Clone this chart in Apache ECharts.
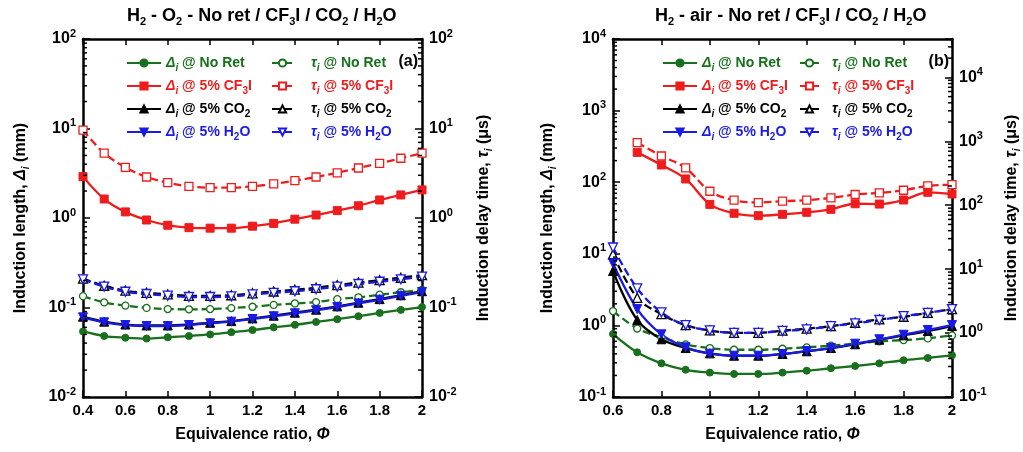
<!DOCTYPE html>
<html>
<head>
<meta charset="utf-8">
<script src="https://cdn.jsdelivr.net/npm/echarts@6/dist/echarts.min.js"></script>
<style>
  html, body { margin: 0; padding: 0; background: #fff; }
  #chart { width: 1023px; height: 452px; }
</style>
</head>
<body>
<div id="chart"></div>
<script>
// ---- Panel (a): H2 - O2 ----
const phiA = [0.4, 0.5, 0.6, 0.7, 0.8, 0.9, 1.0, 1.1, 1.2, 1.3, 1.4, 1.5, 1.6, 1.7, 1.8, 1.9, 2.0];
const aLenNoRet = [0.054, 0.048, 0.046, 0.045, 0.0465, 0.048, 0.050, 0.053, 0.056, 0.060, 0.064, 0.069, 0.074, 0.080, 0.087, 0.094, 0.101];
const aLenCF3I  = [2.9, 1.63, 1.17, 0.95, 0.83, 0.78, 0.77, 0.77, 0.81, 0.87, 0.97, 1.08, 1.21, 1.37, 1.59, 1.81, 2.06];
const aLenCO2   = [0.079, 0.0695, 0.0645, 0.063, 0.063, 0.0645, 0.0675, 0.0705, 0.0755, 0.081, 0.0875, 0.0945, 0.103, 0.113, 0.124, 0.137, 0.152];
const aLenH2O   = [0.0776, 0.0683, 0.0637, 0.062, 0.062, 0.0637, 0.0665, 0.0694, 0.0744, 0.0798, 0.0861, 0.093, 0.101, 0.111, 0.122, 0.135, 0.149];
const aTauNoRet = [0.134, 0.114, 0.105, 0.099, 0.096, 0.0955, 0.096, 0.0985, 0.102, 0.107, 0.111, 0.115, 0.124, 0.130, 0.139, 0.148, 0.157];
const aTauCF3I  = [9.6, 5.3, 3.68, 2.87, 2.48, 2.26, 2.18, 2.18, 2.26, 2.40, 2.61, 2.87, 3.2, 3.62, 4.08, 4.65, 5.3];
const aTauCO2   = [0.21, 0.175, 0.154, 0.146, 0.14, 0.135, 0.135, 0.137, 0.144, 0.151, 0.158, 0.166, 0.178, 0.19, 0.202, 0.215, 0.23];
const aTauH2O   = [0.2065, 0.171, 0.150, 0.1416, 0.1355, 0.131, 0.131, 0.133, 0.140, 0.146, 0.152, 0.160, 0.171, 0.183, 0.194, 0.2065, 0.221];

// ---- Panel (b): H2 - air ----
const phiB = [0.6, 0.7, 0.8, 0.9, 1.0, 1.1, 1.2, 1.3, 1.4, 1.5, 1.6, 1.7, 1.8, 1.9, 2.0];
const bLenNoRet = [0.758, 0.421, 0.295, 0.240, 0.219, 0.210, 0.210, 0.219, 0.233, 0.252, 0.271, 0.295, 0.326, 0.351, 0.382];
const bLenCF3I  = [null, 261, 174, 111, 49, 36.8, 34.1, 35.6, 38, 41.8, 50, 49.5, 56.4, 72.3, 68.4];
const bLenCO2   = [5.75, 1.19, 0.64, 0.483, 0.407, 0.377, 0.377, 0.399, 0.435, 0.483, 0.545, 0.631, 0.726, 0.835, 0.98];
const bLenH2O   = [7.36, 1.69, 0.75, 0.494, 0.403, 0.377, 0.377, 0.399, 0.439, 0.483, 0.555, 0.64, 0.741, 0.863, 1.01];
const bTauNoRet = [2.21, 1.18, 0.857, 0.665, 0.583, 0.548, 0.548, 0.569, 0.598, 0.634, 0.681, 0.741, 0.778, 0.826, 0.92];
const bTauCF3I  = [null, 955, 589, 383, 165.5, 120, 110, 115.5, 120, 130, 147, 155.6, 171.5, 200, 210];
const bTauCO2   = [17.1, 3.56, 1.98, 1.33, 1.10, 1.01, 1.01, 1.09, 1.17, 1.28, 1.45, 1.64, 1.80, 2.07, 2.37];
const bTauH2O   = [21.8, 4.99, 2.10, 1.33, 1.10, 1.01, 1.01, 1.08, 1.14, 1.28, 1.42, 1.60, 1.84, 2.07, 2.37];

// axis ranges
const xRangeA = [0.4, 2.0];
const xRangeB = [0.6, 2.0];
const yLeftA = [1e-2, 1e2];
const yRightA = [1e-2, 1e2];
const yLeftB = [1e-1, 1e4];
const yRightB = [1e-1, 39811];

const titleA = 'H{s|2} - O{s|2} - No ret / CF{s|3}I / CO{s|2} / H{s|2}O';
const titleB = 'H{s|2} - air - No ret / CF{s|3}I / CO{s|2} / H{s|2}O';
const xName = 'Equivalence ratio, {f|Φ}';
const yLeftName = 'Induction length, {d|Δ}{i|i} (mm)';
const yRightName = 'Induction delay time, {t|τ}{i|i} (μs)';

const GREEN = '#18701c', RED = '#ee1c1c', BLACK = '#000000', BLUE = '#1a1ae6';
const FONT = '"Liberation Sans", Arial, sans-serif';

const cases = [
  { key: 'No Ret', label: 'No Ret', color: GREEN, sym: 'circle', size: 7, rot: 0 },
  { key: '5% CF3I', label: '5% CF{s|3}I', color: RED, sym: 'rect', size: 8, rot: 0 },
  { key: '5% CO2', label: '5% CO{s|2}', color: BLACK, sym: 'triangle', size: 9, rot: 0 },
  { key: '5% H2O', label: '5% H{s|2}O', color: BLUE, sym: 'triangle', size: 9, rot: 180 }
];

const richSub = {
  s: { fontSize: 10, lineHeight: 10, verticalAlign: 'bottom', fontWeight: 'bold', fontFamily: FONT },
  i: { fontSize: 10, lineHeight: 10, verticalAlign: 'bottom', fontWeight: 'bold', fontStyle: 'italic', fontFamily: FONT },
  d: { fontStyle: 'italic', fontWeight: 'bold', fontFamily: FONT },
  t: { fontStyle: 'italic', fontWeight: 'bold', fontFamily: FONT },
  f: { fontStyle: 'italic', fontWeight: 'bold', fontFamily: FONT }
};

function zip(xs, ys) {
  const out = [];
  xs.forEach((x, k) => { if (ys[k] != null) out.push([x, ys[k]]); });
  return out;
}

function pow10Label(v) {
  const e = Math.log10(v);
  const r = Math.round(e);
  if (Math.abs(e - r) > 1e-3) return '';
  return '10{p|' + r + '}';
}

function minorValues(range) {
  const out = [];
  const e0 = Math.floor(Math.log10(range[0]) + 1e-9);
  const e1 = Math.ceil(Math.log10(range[1]) - 1e-9);
  for (let e = e0; e <= e1; e++) {
    for (let m = 2; m <= 9; m++) {
      const v = m * Math.pow(10, e);
      if (v > range[0] && v < range[1]) out.push(v);
    }
  }
  return out;
}

// short inward tick marks between decades
function minorTickSeries(xIdx, yIdx, xVal, yRange, dir) {
  return {
    type: 'custom', xAxisIndex: xIdx, yAxisIndex: yIdx, silent: true, clip: false, z: 10,
    data: minorValues(yRange).map(v => [xVal, v]),
    renderItem: function (params, api) {
      const p = api.coord([api.value(0), api.value(1)]);
      return {
        type: 'line',
        shape: { x1: p[0], y1: p[1], x2: p[0] + dir * 4, y2: p[1] },
        style: { stroke: '#000', lineWidth: 1.5 }
      };
    }
  };
}

function lenSeries(c, xIdx, yIdx, xs, ys) {
  return {
    name: 'Δi @ ' + c.key, type: 'line', xAxisIndex: xIdx, yAxisIndex: yIdx,
    data: zip(xs, ys), smooth: 0.35, symbol: c.sym, symbolSize: c.size, symbolRotate: c.rot,
    itemStyle: { color: c.color, borderColor: c.color, borderWidth: 1 },
    lineStyle: { color: c.color, width: 2.3, type: 'solid' },
    z: 3
  };
}

function tauSeries(c, xIdx, yIdx, xs, ys) {
  return {
    name: 'τi @ ' + c.key, type: 'line', xAxisIndex: xIdx, yAxisIndex: yIdx,
    data: zip(xs, ys), smooth: 0.35, symbol: c.sym, symbolSize: c.size, symbolRotate: c.rot,
    itemStyle: { color: '#ffffff', borderColor: c.color, borderWidth: 1.3 },
    lineStyle: { color: c.color, width: 2.3, type: [8, 4] },
    z: 3
  };
}

function legendBlock(prefix, left, top, iconW, gap) {
  return {
    orient: 'vertical', left: left, top: top, itemWidth: iconW, itemHeight: 9, itemGap: 3,
    symbolRotate: 'inherit', selectedMode: false, padding: 0,
    data: cases.map(c => ({ name: prefix + ' @ ' + c.key, textStyle: { color: c.color } })),
    formatter: function (name) {
      const c = cases.find(cc => name.endsWith('@ ' + cc.key));
      const head = prefix === 'Δi' ? '{d|Δ}{i|i}' : '{g|}{t|τ}{i|i}';
      return head + ' @ ' + c.label;
    },
    textStyle: {
      fontFamily: FONT, fontWeight: 'bold', fontSize: 14, lineHeight: 20,
      rich: Object.assign({}, richSub, {
        g: { width: gap },
        d: { fontStyle: 'italic', fontWeight: 'bold', fontSize: 14, fontFamily: FONT },
        t: { fontStyle: 'italic', fontWeight: 'bold', fontSize: 14, fontFamily: FONT }
      })
    }
  };
}

const axisFont = { fontFamily: FONT, fontWeight: 'bold', color: '#000' };

function xAxes(gridIndex, range) {
  const base = {
    type: 'value', gridIndex: gridIndex, min: range[0], max: range[1], interval: 0.2,
    splitLine: { show: false },
    axisLine: { show: true, onZero: false, lineStyle: { color: '#000', width: 2.5 } },
    axisTick: { show: true, inside: true, length: 6, lineStyle: { color: '#000', width: 1.5 } }
  };
  return [
    Object.assign({}, base, {
      position: 'bottom',
      axisLabel: Object.assign({ fontSize: 15, margin: 6 }, axisFont),
      name: xName, nameLocation: 'middle', nameGap: 30,
      nameTextStyle: Object.assign({ fontSize: 16, rich: { f: { fontStyle: 'italic', fontWeight: 'bold', fontSize: 16, fontFamily: FONT } } }, axisFont)
    }),
    Object.assign({}, base, { position: 'top', axisLabel: { show: false } })
  ];
}

function yAxis(gridIndex, range, pos, name, gap) {
  return {
    type: 'log', logBase: 10, gridIndex: gridIndex, min: range[0], max: range[1], position: pos,
    splitLine: { show: false },
    axisLine: { show: true, onZero: false, lineStyle: { color: '#000', width: 2.5 } },
    axisTick: { show: true, inside: true, length: 7, lineStyle: { color: '#000', width: 1.5 } },
    axisLabel: Object.assign({
      fontSize: 16, margin: 7, formatter: pow10Label, lineHeight: 22,
      rich: { p: { fontSize: 11, lineHeight: 13, verticalAlign: 'top', fontWeight: 'bold', fontFamily: FONT } }
    }, axisFont),
    name: name, nameLocation: 'middle', nameRotate: 90, nameGap: gap,
    nameTextStyle: Object.assign({ fontSize: 16, lineHeight: 20, rich: Object.assign({}, richSub, {
      d: { fontStyle: 'italic', fontWeight: 'bold', fontSize: 16, fontFamily: FONT },
      t: { fontStyle: 'italic', fontWeight: 'bold', fontSize: 16, fontFamily: FONT },
      i: { fontSize: 10, lineHeight: 10, verticalAlign: 'bottom', fontWeight: 'bold', fontStyle: 'italic', fontFamily: FONT }
    }) }, axisFont)
  };
}

const series = [];
const aLen = [aLenNoRet, aLenCF3I, aLenCO2, aLenH2O];
const aTau = [aTauNoRet, aTauCF3I, aTauCO2, aTauH2O];
const bLen = [bLenNoRet, bLenCF3I, bLenCO2, bLenH2O];
const bTau = [bTauNoRet, bTauCF3I, bTauCO2, bTauH2O];
cases.forEach((c, k) => {
  series.push(tauSeries(c, 0, 1, phiA, aTau[k]));
  series.push(lenSeries(c, 0, 0, phiA, aLen[k]));
  series.push(tauSeries(c, 2, 3, phiB, bTau[k]));
  series.push(lenSeries(c, 2, 2, phiB, bLen[k]));
});
series.push(minorTickSeries(0, 0, xRangeA[0], yLeftA, 1));
series.push(minorTickSeries(0, 1, xRangeA[1], yRightA, -1));
series.push(minorTickSeries(2, 2, xRangeB[0], yLeftB, 1));
series.push(minorTickSeries(2, 3, xRangeB[1], yRightB, -1));

const titleStyle = {
  fontFamily: FONT, fontWeight: 'bold', fontSize: 18, color: '#000', lineHeight: 22,
  rich: { s: { fontSize: 11, lineHeight: 11, verticalAlign: 'bottom', fontWeight: 'bold', fontFamily: FONT } }
};
const tagStyle = { fontFamily: FONT, fontWeight: 'bold', fontSize: 16, color: '#000' };

const option = {
  animation: false,
  backgroundColor: '#ffffff',
  title: [
    { text: titleA, left: 127, top: 5, padding: 0, textStyle: titleStyle },
    { text: titleB, left: 655, top: 5, padding: 0, textStyle: titleStyle },
    { text: '(a)', right: 605, top: 54, padding: 0, textStyle: tagStyle },
    { text: '(b)', right: 74, top: 54, padding: 0, textStyle: tagStyle }
  ],
  legend: [
    legendBlock('Δi', 126, 53, 34, 0),
    legendBlock('τi', 271, 53, 21, 13),
    legendBlock('Δi', 662, 53, 34, 0),
    legendBlock('τi', 799, 53, 19, 8)
  ],
  grid: [
    { left: 83, top: 39, width: 339, height: 358, containLabel: false, outerBoundsMode: 'none' },
    { left: 613, top: 39, width: 339, height: 358, containLabel: false, outerBoundsMode: 'none' }
  ],
  xAxis: [].concat(xAxes(0, xRangeA), xAxes(1, xRangeB)),
  yAxis: [
    yAxis(0, yLeftA, 'left', yLeftName, 52),
    yAxis(0, yRightA, 'right', yRightName, 52),
    yAxis(1, yLeftB, 'left', yLeftName, 55),
    yAxis(1, yRightB, 'right', yRightName, 50)
  ],
  series: series
};

// x axes 0,1 belong to grid 0 and 2,3 to grid 1; series on grid 1 use xAxisIndex 2
const chart = echarts.init(document.getElementById('chart'), null, { renderer: 'canvas' });
chart.setOption(option);
</script>
</body>
</html>
